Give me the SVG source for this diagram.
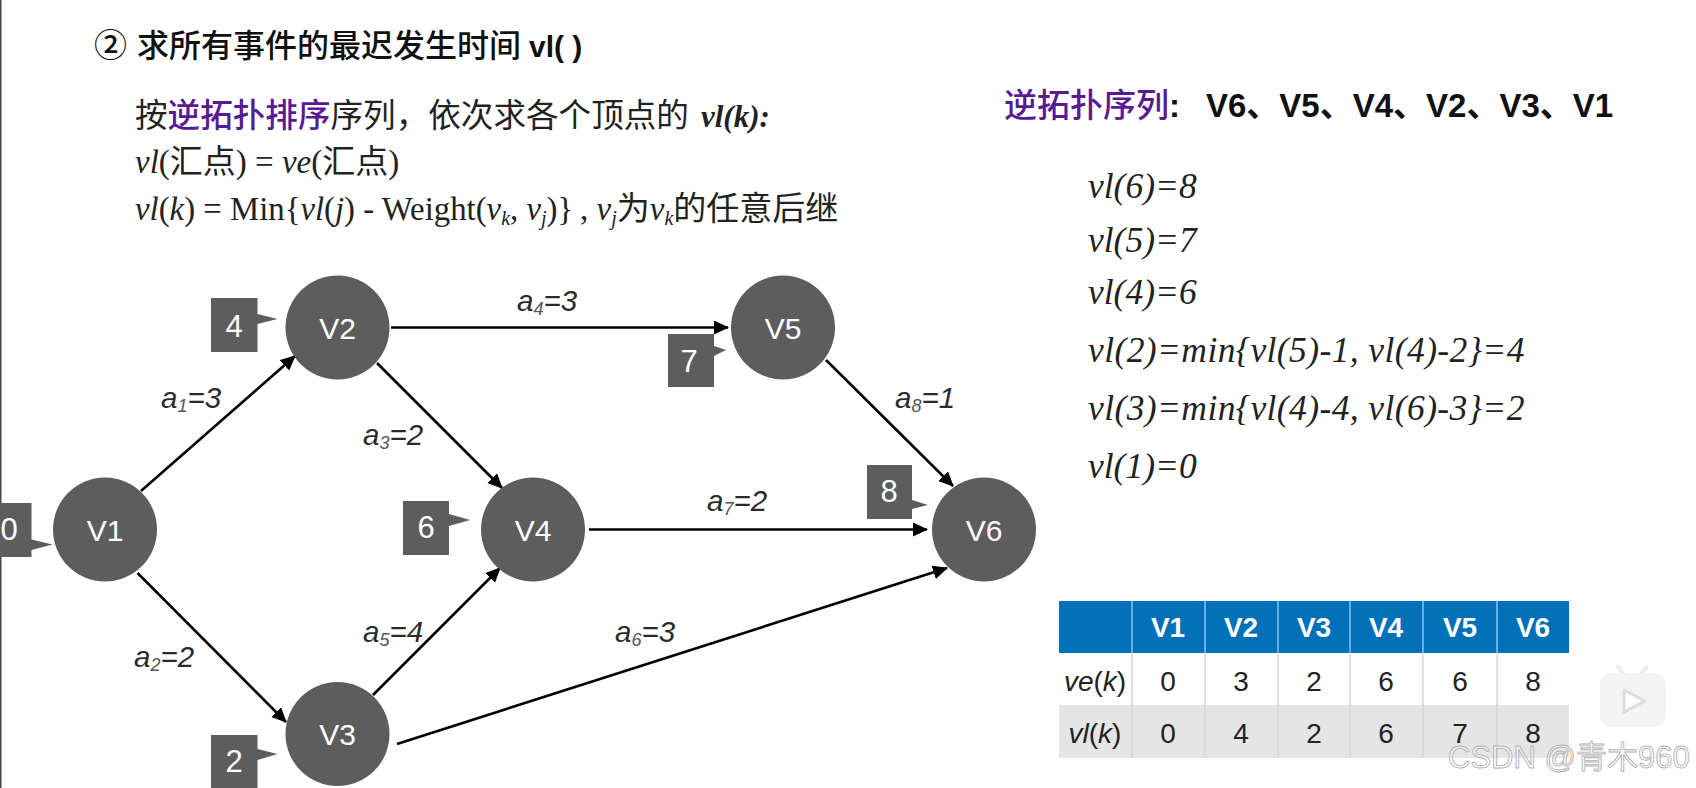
<svg xmlns="http://www.w3.org/2000/svg" width="1696" height="788" viewBox="0 0 1696 788">
<style>
text{font-family:"Liberation Sans","Noto Sans CJK SC",sans-serif}
.s,.s text{font-family:"Liberation Serif","Noto Sans CJK SC",serif;fill:#222}
.c{fill:#5d5d5d}
.nl{fill:#fff;font-size:30px;text-anchor:middle}
.cl{fill:#fff;font-size:31px;text-anchor:middle}
.e{stroke:#000;stroke-width:2.6;fill:none;marker-end:url(#ah)}
.lab{font-size:29.500px;font-style:italic;fill:#2b2b2b}
.sb{font-size:18px;fill:#555}
.vl{font-family:"Liberation Serif",serif;font-style:italic;font-size:35.500px;fill:#222}
.lg{letter-spacing:.4px}
.th{fill:#fff;font-size:28px;font-weight:bold;text-anchor:middle}
.td{fill:#222;font-size:28px;text-anchor:middle}
.ti{font-style:italic}
.d1{stroke:#8cc4ea;stroke-width:1.5}
.d2{stroke:#d6d6d6;stroke-width:1.5}
.i{font-style:italic}
.sub{font-size:20px;font-style:italic}
</style>
<defs>
<marker id="ah" markerUnits="userSpaceOnUse" markerWidth="17" markerHeight="15" refX="14" refY="7" orient="auto"><path d="M0 0L15 7L0 14z" fill="#000"/></marker>
</defs>
<rect width="1696" height="788" fill="#fff"/>
<rect x="0" y="0" width="1.5" height="788" fill="#444"/>

<g id="heading" fill="#111">
<text x="94" y="57" font-size="33" font-weight="500">②</text>
<text x="137" y="57" font-size="32" font-weight="500">求所有事件的最迟发生时间</text>
<text x="529" y="57" font-size="30" font-weight="bold">vl( )</text>
</g>

<g id="rules">
<text x="135" y="127" font-size="32.600" fill="#222">按<tspan fill="#5a1a96" font-weight="500">逆拓扑排序</tspan>序列&#xFF0C;依次求各个顶点的</text>
<text class="s" x="701" y="127" font-size="31" font-weight="bold" font-style="italic">vl(k):</text>
<g class="s">
<text x="135" y="173" font-size="33"><tspan class="i">vl</tspan>(汇点) = <tspan class="i">ve</tspan>(汇点)</text>
<text x="135" y="220" font-size="32.800"><tspan class="i">vl</tspan>(<tspan class="i">k</tspan>) = Min{<tspan class="i">vl</tspan>(<tspan class="i">j</tspan>) - Weight(<tspan class="i">v</tspan><tspan class="sub" dy="5">k</tspan><tspan dy="-5">, </tspan><tspan class="i">v</tspan><tspan class="sub" dy="5">j</tspan><tspan dy="-5">)}</tspan></text>
<text x="580" y="220" font-size="33">, <tspan class="i">v</tspan><tspan class="sub" dy="5">j</tspan><tspan dy="-5">为</tspan><tspan class="i">v</tspan><tspan class="sub" dy="5">k</tspan><tspan dy="-5">的任意后继</tspan></text>
</g>
</g>

<g id="connectors">
<line class="e" x1="141" y1="491" x2="295" y2="356"/>
<line class="e" x1="137.500" y1="573" x2="286" y2="722"/>
<line class="e" x1="377" y1="363" x2="502" y2="488"/>
<line class="e" x1="391" y1="327.500" x2="728" y2="327.500"/>
<line class="e" x1="373" y1="695" x2="500" y2="568"/>
<line class="e" x1="397" y1="744" x2="947" y2="568"/>
<line class="e" x1="589" y1="529.500" x2="927" y2="529.500"/>
<line class="e" x1="826" y1="360" x2="953" y2="486"/>
</g>

<g id="edge-labels">
<text class="lab" x="161" y="408">a<tspan class="sb" dy="4">1</tspan><tspan dy="-4">=3</tspan></text>
<text class="lab" x="134" y="667">a<tspan class="sb" dy="4">2</tspan><tspan dy="-4">=2</tspan></text>
<text class="lab" x="363" y="445">a<tspan class="sb" dy="4">3</tspan><tspan dy="-4">=2</tspan></text>
<text class="lab" x="517" y="311">a<tspan class="sb" dy="4">4</tspan><tspan dy="-4">=3</tspan></text>
<text class="lab" x="363" y="642">a<tspan class="sb" dy="4">5</tspan><tspan dy="-4">=4</tspan></text>
<text class="lab" x="615" y="642">a<tspan class="sb" dy="4">6</tspan><tspan dy="-4">=3</tspan></text>
<text class="lab" x="707" y="511">a<tspan class="sb" dy="4">7</tspan><tspan dy="-4">=2</tspan></text>
<text class="lab" x="895" y="408">a<tspan class="sb" dy="4">8</tspan><tspan dy="-4">=1</tspan></text>
</g>

<g id="V1"><circle class="c" cx="105" cy="529.500" r="52"/><text class="nl" x="105" y="540.500">V1</text></g>
<g id="V2"><circle class="c" cx="337.500" cy="327.500" r="52"/><text class="nl" x="337.500" y="338.500">V2</text></g>
<g id="V3"><circle class="c" cx="337.500" cy="734" r="52"/><text class="nl" x="337.500" y="745">V3</text></g>
<g id="V4"><circle class="c" cx="533" cy="529.500" r="52"/><text class="nl" x="533" y="540.500">V4</text></g>
<g id="V5"><circle class="c" cx="783" cy="327.500" r="52"/><text class="nl" x="783" y="338.500">V5</text></g>
<g id="V6"><circle class="c" cx="984" cy="529.500" r="52"/><text class="nl" x="984" y="540.500">V6</text></g>

<g id="tag-V1"><path class="c" d="M0 503H31.500V539.500L52.500 544.500L31.500 550V557H0z"/><text class="cl" x="9" y="540">0</text></g>
<g id="tag-V2"><path class="c" d="M211 298H257.500V314L277.500 319L257.500 324V352H211z"/><text class="cl" x="234" y="337">4</text></g>
<g id="tag-V3"><path class="c" d="M211 735H257.500V749L277.500 754L257.500 760V788H211z"/><text class="cl" x="234" y="772">2</text></g>
<g id="tag-V4"><path class="c" d="M403 501H449V514L470 520L449 526V555H403z"/><text class="cl" x="426" y="538">6</text></g>
<g id="tag-V5"><path class="c" d="M668 334H714V346L726 350L714 356V387H668z"/><text class="cl" x="689" y="372">7</text></g>
<g id="tag-V6"><path class="c" d="M867 465H912V500L928 505L912 509V519H867z"/><text class="cl" x="889" y="502">8</text></g>

<g id="order">
<text x="1004" y="117" font-size="33" fill="#5a1a96" font-weight="500">逆拓扑序列</text>
<text x="1169" y="117" font-size="33" fill="#111" font-weight="bold">:</text>
<text x="1206" y="117" font-size="33" fill="#111" font-weight="bold">V6、V5、V4、V2、V3、V1</text>
</g>

<g id="calc">
<text class="vl" x="1088" y="198">vl(6)=8</text>
<text class="vl" x="1088" y="252">vl(5)=7</text>
<text class="vl" x="1088" y="304">vl(4)=6</text>
<text class="vl lg" x="1088" y="362">vl(2)=min{vl(5)-1, vl(4)-2}=4</text>
<text class="vl lg" x="1088" y="420">vl(3)=min{vl(4)-4, vl(6)-3}=2</text>
<text class="vl" x="1088" y="478">vl(1)=0</text>
</g>

<g id="table">
<rect x="1059" y="601" width="510" height="52" fill="#0070b8"/>
<rect x="1059" y="705" width="510" height="53" fill="#e5e5e5"/>
<path class="d1" d="M1132 601V653M1205 601V653M1278 601V653M1350 601V653M1423 601V653M1497 601V653"/>
<path class="d2" d="M1132 653V758M1205 653V758M1278 653V758M1350 653V758M1423 653V758M1497 653V758"/>
<text class="th" x="1168" y="637">V1</text><text class="th" x="1241" y="637">V2</text><text class="th" x="1314" y="637">V3</text><text class="th" x="1386" y="637">V4</text><text class="th" x="1460" y="637">V5</text><text class="th" x="1533" y="637">V6</text>
<text class="td" x="1095" y="691"><tspan class="ti">ve</tspan>(<tspan class="ti">k</tspan>)</text>
<text class="td" x="1168" y="691">0</text><text class="td" x="1241" y="691">3</text><text class="td" x="1314" y="691">2</text><text class="td" x="1386" y="691">6</text><text class="td" x="1460" y="691">6</text><text class="td" x="1533" y="691">8</text>
<text class="td" x="1095" y="743"><tspan class="ti">vl</tspan>(<tspan class="ti">k</tspan>)</text>
<text class="td" x="1168" y="743">0</text><text class="td" x="1241" y="743">4</text><text class="td" x="1314" y="743">2</text><text class="td" x="1386" y="743">6</text><text class="td" x="1460" y="743">7</text><text class="td" x="1533" y="743">8</text>
</g>

<g id="watermark">
<path d="M1618 667L1625 675M1647 667L1640 675" stroke="#eeeeee" stroke-width="4" stroke-linecap="round"/>
<rect x="1600" y="673" width="66" height="54" rx="11" fill="#f4f4f4"/>
<path d="M1624 690L1645 701L1624 712z" fill="#fdfdfd" stroke="#dddddd" stroke-width="3" stroke-linejoin="round"/>
<text x="1448" y="768" font-size="31" fill="#fff" fill-opacity=".55" stroke="#b0b0b0" stroke-width=".9">CSDN @青木960</text>
</g>
</svg>
